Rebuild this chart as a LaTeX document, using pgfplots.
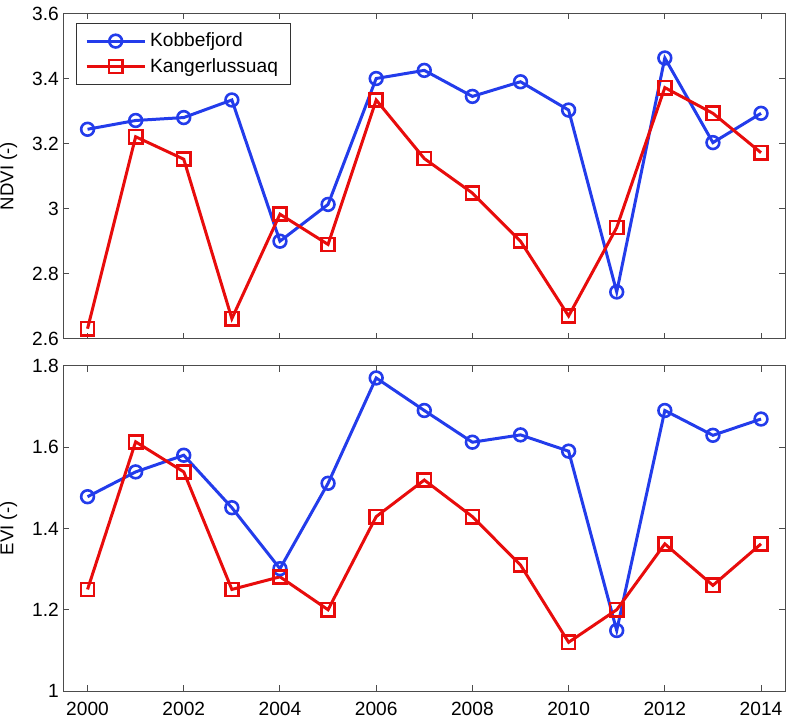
\documentclass[border=0pt]{standalone}
\usepackage{fontspec}
\setmainfont{Liberation Sans}
\usepackage{pgfplots}
\pgfplotsset{compat=1.18}
\definecolor{mblue}{RGB}{35,60,235}
\definecolor{mred}{RGB}{232,12,12}
\begin{document}
\begin{tikzpicture}
\pgfplotsset{
  common/.style={
    width=361.5pt, height=163pt, scale only axis,
    xmin=1999.5, xmax=2014.5,
    xtick={2000,2002,...,2014},
    tick align=inside,
    major tick length=3pt,
    axis line style={draw=black!70, line width=0.5pt},
    tick style={black!70, line width=0.5pt},
    /pgf/number format/assume math mode=true,
    /pgf/number format/1000 sep={},
    ticklabel style={font=\fontsize{9.6}{11}\selectfont},
    yticklabel style={xshift=1.2pt},
    xticklabel style={yshift=-2pt},
    label style={font=\fontsize{9.3}{11}\selectfont},
    ylabel style={at={(axis description cs:-0.076,0.5)}, anchor=center, inner sep=0pt},
    every axis plot/.append style={line width=1.5pt},
  },
  kob/.style={color=mblue, mark=o, mark size=3.2pt, mark options={solid, line width=1.3pt}},
  kan/.style={color=mred, mark=square, mark size=3.3pt, mark options={solid, line width=1.3pt}},
}
\begin{axis}[common, name=top,
  ymin=2.6, ymax=3.6, ytick={2.6,2.8,...,3.61},
  xticklabels={},
  ylabel={NDVI (-)},
  legend cell align=left,
  legend image code/.code={\draw[mark repeat=2,mark phase=2,#1] plot coordinates {(0pt,0pt)(14.5pt,0pt)(29pt,0pt)};},
  legend style={at={(0.017,0.97)}, anchor=north west, draw=black!80, line width=0.5pt,
    font=\fontsize{9.6}{11}\selectfont, inner xsep=4.5pt, inner ysep=2.5pt, row sep=0.3pt},
]
\addplot[kob] coordinates {
(2000,3.244) (2001,3.271) (2002,3.280) (2003,3.334) (2004,2.900) (2005,3.013) (2006,3.400) (2007,3.425) (2008,3.345) (2009,3.390) (2010,3.303) (2011,2.744) (2012,3.463) (2013,3.203) (2014,3.293)};
\addlegendentry{Kobbefjord}
\addplot[kan] coordinates {
(2000,2.631) (2001,3.221) (2002,3.152) (2003,2.662) (2004,2.983) (2005,2.890) (2006,3.334) (2007,3.154) (2008,3.048) (2009,2.900) (2010,2.670) (2011,2.942) (2012,3.372) (2013,3.293) (2014,3.172)};
\addlegendentry{Kangerlussuaq}
\end{axis}
\begin{axis}[common, at={(top.south west)}, anchor=north west, yshift=-13.5pt,
  ymin=1, ymax=1.8, ytick={1,1.2,...,1.81},
  ylabel={EVI (-)},
]
\addplot[kob] coordinates {
(2000,1.478) (2001,1.539) (2002,1.580) (2003,1.451) (2004,1.301) (2005,1.511) (2006,1.770) (2007,1.690) (2008,1.612) (2009,1.630) (2010,1.590) (2011,1.149) (2012,1.690) (2013,1.629) (2014,1.669)};
\addplot[kan] coordinates {
(2000,1.250) (2001,1.613) (2002,1.539) (2003,1.250) (2004,1.281) (2005,1.200) (2006,1.429) (2007,1.519) (2008,1.429) (2009,1.310) (2010,1.120) (2011,1.200) (2012,1.362) (2013,1.260) (2014,1.362)};
\end{axis}
\end{tikzpicture}
\end{document}
